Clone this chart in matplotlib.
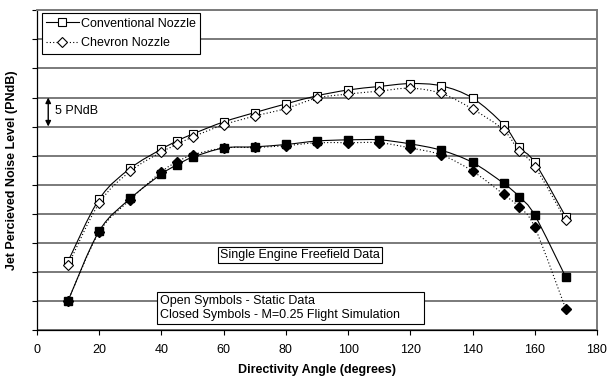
import numpy as np
import matplotlib
matplotlib.use("Agg")
from matplotlib import pyplot as plt
from matplotlib.path import Path
from matplotlib.patches import PathPatch, Rectangle
from matplotlib.lines import Line2D

plt.rcParams['font.family'] = ['Liberation Sans', 'DejaVu Sans']

# directivity angles (deg)
angle = [10, 20, 30, 40, 45, 50, 60, 70, 80, 90, 100, 110, 120, 130, 140, 150, 155, 160, 170]

# levels relative to the bottom of the axis (PNdB), no absolute scale shown
conv_static = [11.8, 22.5, 27.8, 31.1, 32.5, 33.7, 35.8, 37.4, 38.9, 40.3, 41.3, 41.9, 42.4, 42.0,
               39.9, 35.3, 31.4, 28.8, 19.4]
chev_static = [11.1, 21.8, 27.3, 30.6, 31.9, 33.2, 35.3, 36.8, 38.1, 39.9, 40.6, 41.1, 41.6, 40.7,
               38.0, 34.4, 30.7, 28.1, 18.8]
conv_flight = [5.0, 17.0, 22.6, 26.8, 28.4, 29.7, 31.3, 31.5, 31.9, 32.5, 32.7, 32.7, 32.0, 30.9,
               28.8, 25.2, 22.9, 19.7, 9.0]
chev_flight = [5.0, 16.8, 22.4, 27.2, 28.9, 30.1, 31.3, 31.4, 31.7, 32.2, 32.2, 32.2, 31.3, 30.1,
               27.3, 23.3, 21.1, 17.6, 3.5]


def smooth_line(ax, x, y, ls):
    # excel style smoothed line: cubic bezier segments through the points
    p = np.column_stack([x, y]).astype(float)
    verts = [p[0]]
    codes = [Path.MOVETO]
    n = len(p)
    for i in range(n - 1):
        p0 = p[i - 1] if i > 0 else p[i]
        p3 = p[i + 2] if i + 2 < n else p[i + 1]
        c1 = p[i] + (p[i + 1] - p0) / 6
        c2 = p[i + 1] - (p3 - p[i]) / 6
        verts += [c1, c2, p[i + 1]]
        codes += [Path.CURVE4] * 3
    ax.add_patch(PathPatch(Path(verts, codes), fill=False, lw=0.8, ls=ls, ec='black', zorder=3))


fs = 9
fig = plt.figure(figsize=(6.07, 3.81), dpi=100)
ax = fig.add_axes([0.061, 0.135, 0.9225, 0.8375])

smooth_line(ax, angle, conv_static, '-')
smooth_line(ax, angle, chev_static, (0, (1, 2)))
smooth_line(ax, angle, conv_flight, '-')
smooth_line(ax, angle, chev_flight, (0, (1, 2)))

ms = 6
ax.plot(angle, conv_static, 's', ms=ms, mfc='white', mec='black', mew=0.8, zorder=4)
ax.plot(angle, chev_static, 'D', ms=4.8, mfc='white', mec='black', mew=0.8, zorder=5)
ax.plot(angle, conv_flight, 's', ms=ms, mfc='black', mec='black', zorder=4)
ax.plot(angle, chev_flight, 'D', ms=4.8, mfc='black', mec='black', zorder=5)

ax.set_xlim(0, 180)
ax.set_ylim(0, 55)
ax.set_xticks(range(0, 181, 20))
ax.set_yticks(range(0, 56, 5))
ax.set_yticklabels([])
ax.tick_params(axis='both', direction='out', length=3.5, width=0.8, labelsize=fs, colors='black')
ax.tick_params(axis='x', pad=7)
ax.grid(axis='y', color='#7a7a7a', lw=1.4)
ax.set_axisbelow(True)
for s in ['top', 'right']:
    ax.spines[s].set_color('#7a7a7a')
    ax.spines[s].set_linewidth(1.4)
ax.spines['left'].set_linewidth(0.9)
ax.spines['bottom'].set_linewidth(0.9)

ax.set_xlabel('Directivity Angle (degrees)', fontsize=fs, fontweight='bold', labelpad=6)
ax.set_ylabel('Jet Percieved Noise Level (PNdB)', fontsize=fs, fontweight='bold')
ax.yaxis.set_label_coords(-0.034, 0.5)

# 5 PNdB scale arrow
ax.annotate('', xy=(3.6, 35), xytext=(3.6, 40),
            arrowprops=dict(arrowstyle='<|-|>', color='black', lw=1, mutation_scale=8,
                            shrinkA=0, shrinkB=0))
ax.text(5.9, 37.7, '5 PNdB', fontsize=fs, va='center', ha='left')

box = dict(boxstyle='square,pad=0.15', fc='white', ec='black', lw=0.8)
ax.text(58.8, 12.8, 'Single Engine Freefield Data', fontsize=fs, va='center', ha='left', bbox=box)

# fixed-width note box
ax.add_patch(Rectangle((38.6, 0.95), 85.8, 5.5, fc='white', ec='black', lw=0.8, zorder=6))
ax.text(39.4, 3.7, 'Open Symbols - Static Data\nClosed Symbols - M=0.25 Flight Simulation',
        fontsize=fs, va='center', ha='left', linespacing=1.3, zorder=7)

handles = [
    Line2D([], [], color='black', lw=0.8, ls='-', marker='s', ms=ms, mfc='white', mec='black', mew=0.8),
    Line2D([], [], color='black', lw=0.8, ls=(0, (1, 2)), marker='D', ms=4.8, mfc='white', mec='black', mew=0.8),
]
leg = ax.legend(handles, ['Conventional Nozzle', 'Chevron Nozzle'], loc='upper left',
                bbox_to_anchor=(0.006, 0.995), fontsize=fs, frameon=True, fancybox=False,
                edgecolor='black', framealpha=1, borderpad=0.35, labelspacing=0.6,
                handlelength=2.6, handletextpad=0.2, borderaxespad=0.1)
leg.get_frame().set_linewidth(0.8)
leg.set_zorder(10)

fig.savefig('out.png', dpi=100)
